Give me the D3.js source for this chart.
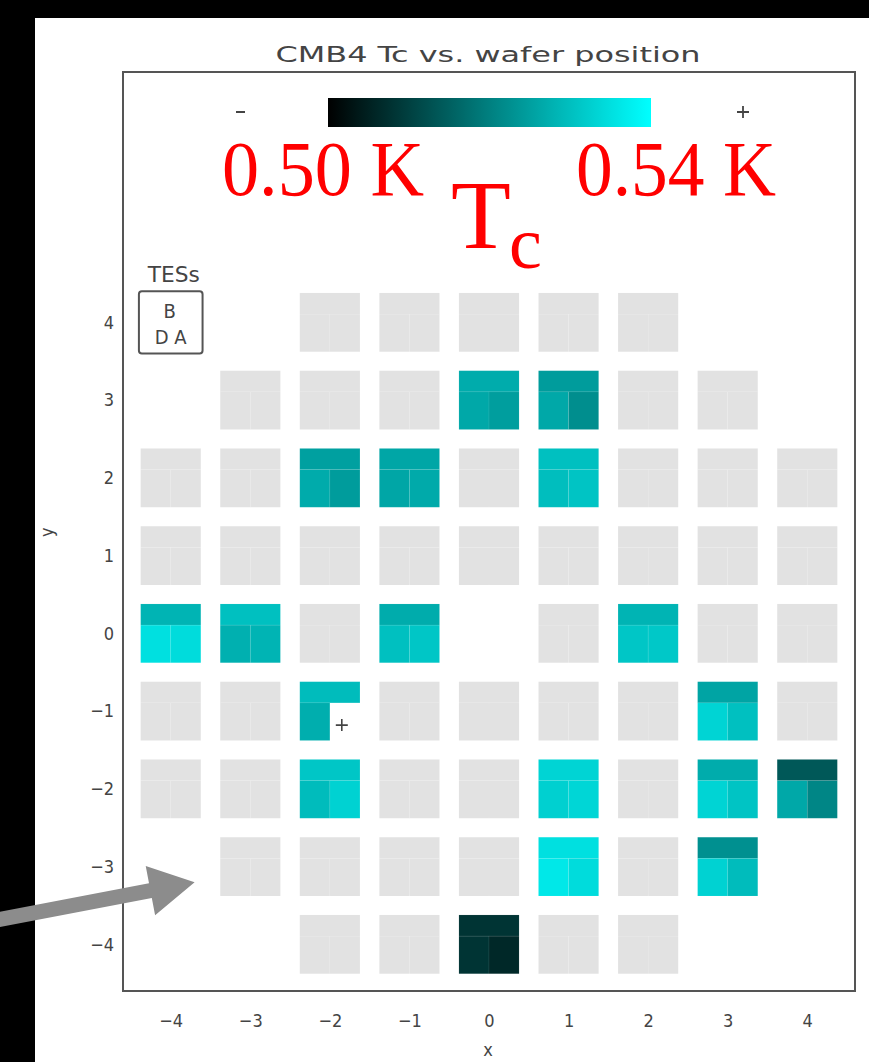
<!DOCTYPE html>
<html>
<head>
<meta charset="utf-8">
<script src="https://cdn.jsdelivr.net/npm/d3@7"></script>
<style>
  html, body { margin: 0; padding: 0; background: #000; }
  svg { display: block; }
  .lbl { font-family: "Liberation Sans Narrow", "DejaVu Sans Condensed", "DejaVu Sans", sans-serif; fill: #444; }
  .red { font-family: "Liberation Serif", "DejaVu Serif", serif; fill: #ff0000; }
</style>
</head>
<body>
<svg id="chart" width="869" height="1062"></svg>
<script>
// wafer pixel positions, one entry per pixel (row by row, top to bottom)
const pixelX = [
  -2, -1, 0, 1, 2,
  -3, -2, -1, 0, 1, 2, 3,
  -4, -3, -2, -1, 0, 1, 2, 3, 4,
  -4, -3, -2, -1, 0, 1, 2, 3, 4,
  -4, -3, -2, -1, 1, 2, 3, 4,
  -4, -3, -2, -1, 0, 1, 2, 3, 4,
  -4, -3, -2, -1, 0, 1, 2, 3, 4,
  -3, -2, -1, 0, 1, 2, 3,
  -2, -1, 0, 1, 2
];
const pixelY = [
  4, 4, 4, 4, 4,
  3, 3, 3, 3, 3, 3, 3,
  2, 2, 2, 2, 2, 2, 2, 2, 2,
  1, 1, 1, 1, 1, 1, 1, 1, 1,
  0, 0, 0, 0, 0, 0, 0, 0,
  -1, -1, -1, -1, -1, -1, -1, -1, -1,
  -2, -2, -2, -2, -2, -2, -2, -2, -2,
  -3, -3, -3, -3, -3, -3, -3,
  -4, -4, -4, -4, -4
];
// Tc (K) of the three TESs in each pixel, null = not measured
const _ = null;
const tcB = [
  _, _, _, _, _,
  _, _, _, .5270, .5245, _, _,
  _, _, .5251, .5260, _, .5301, _, _, _,
  _, _, _, _, _, _, _, _, _,
  .5282, .5301, _, .5270, _, .5282, _, _,
  _, _, .5295, _, _, _, _, .5257, _,
  _, _, .5311, _, _, .5333, _, .5270, .5138,
  _, _, _, _, .5351, _, .5226,
  _, _, .5082, _, _
];
const tcD = [
  _, _, _, _, _,
  _, _, _, .5264, .5264, _, _,
  _, _, .5268, .5260, _, .5298, _, _, _,
  _, _, _, _, _, _, _, _, _,
  .5351, .5276, _, .5301, _, .5311, _, _,
  _, _, .5273, _, _, _, _, .5333, _,
  _, _, .5295, _, _, .5326, _, .5333, .5264,
  _, _, _, _, .5364, _, .5329,
  _, _, .5082, _, _
];
const tcA = [
  _, _, _, _, _,
  _, _, _, .5248, .5223, _, _,
  _, _, .5245, .5267, _, .5307, _, _, _,
  _, _, _, _, _, _, _, _, _,
  .5345, .5282, _, .5311, _, .5314, _, _,
  _, _, _, _, _, _, _, .5301, _,
  _, _, .5329, _, _, .5336, _, .5307, .5210,
  _, _, _, _, .5345, _, .5295,
  _, _, .5063, _, _
];
const xTicks = [-4, -3, -2, -1, 0, 1, 2, 3, 4];
const yTicks = [-4, -3, -2, -1, 0, 1, 2, 3, 4];
const tcRange = [0.50, 0.54];
const tcLabels = ["0.50 K", "0.54 K"];
// arrow annotation in data coords (tail, tip)
const arrowTail = [-6.21, -3.69];
const arrowTip = [-3.70, -3.20];

const svg = d3.select("#chart");
const W = 869, H = 1062;

// white slide panel
svg.append("rect").attr("x", 35).attr("y", 18).attr("width", W - 35).attr("height", H - 18).attr("fill", "#fff");

const x = d3.scaleLinear().domain([-4.6, 4.6]).range([123, 855]);
const y = d3.scaleLinear().domain([-4.6, 7.22]).range([991, 72]);
const color = d3.scaleLinear().domain(tcRange).range(["#000000", "#00ffff"]).clamp(true);

const half = 0.378;      // half size of a pixel, data units
const bFrac = 0.36;      // share of height taken by the B TES

const pixels = pixelX.map((px, i) => ({ x: px, y: pixelY[i], B: tcB[i], D: tcD[i], A: tcA[i] }));

const tes = [];
pixels.forEach(p => {
  const tested = p.B !== null || p.D !== null || p.A !== null;
  const top = p.y + half, bot = p.y - half, mid = top - 2 * half * bFrac;
  const parts = [
    { k: "B", x0: p.x - half, x1: p.x + half, y0: mid, y1: top },
    { k: "D", x0: p.x - half, x1: p.x, y0: bot, y1: mid },
    { k: "A", x0: p.x, x1: p.x + half, y0: bot, y1: mid }
  ];
  parts.forEach(s => {
    const v = p[s.k];
    if (!tested) tes.push({ ...s, fill: "#e2e2e2" });
    else if (v !== null) tes.push({ ...s, fill: color(v) });
    else tes.push({ ...s, fill: null, dead: true, px: p.x, py: p.y });
  });
});

svg.append("g").selectAll("rect")
  .data(tes.filter(d => d.fill))
  .join("rect")
  .attr("x", d => x(d.x0))
  .attr("y", d => y(d.y1))
  .attr("width", d => x(d.x1) - x(d.x0))
  .attr("height", d => y(d.y0) - y(d.y1))
  .attr("fill", d => d.fill)
  .attr("stroke", "rgba(255,255,255,0.08)")
  .attr("stroke-width", 0.8);

// dead TES marker
svg.append("g").selectAll("path")
  .data(tes.filter(d => d.dead))
  .join("path")
  .attr("d", d => {
    const cx = x(d.px + 0.15), cy = y(d.py - 0.18);
    return `M${cx - 6},${cy}H${cx + 6}M${cx},${cy - 6}V${cy + 6}`;
  })
  .attr("stroke", "#444").attr("stroke-width", 1.6);

// frame
svg.append("rect")
  .attr("x", x(-4.6)).attr("y", y(7.22))
  .attr("width", x(4.6) - x(-4.6)).attr("height", y(-4.6) - y(7.22))
  .attr("fill", "none").attr("stroke", "#555").attr("stroke-width", 2);

// axes
const xAxis = svg.append("g").attr("transform", `translate(0,${y(-4.6)})`)
  .call(d3.axisBottom(x).tickValues(xTicks).tickSize(0).tickPadding(23));
const yAxis = svg.append("g").attr("transform", `translate(${x(-4.6)},0)`)
  .call(d3.axisLeft(y).tickValues(yTicks).tickSize(0).tickPadding(9));
[xAxis, yAxis].forEach(a => {
  a.select(".domain").remove();
  a.selectAll("text").attr("class", "lbl").style("font-size", "18px").attr("fill", null);
});

svg.append("text").attr("class", "lbl").attr("x", 488).attr("y", 1056)
  .attr("text-anchor", "middle").style("font-size", "18px").text("x");
svg.append("text").attr("class", "lbl")
  .attr("transform", `translate(53,${y(1.3)}) rotate(-90)`)
  .attr("text-anchor", "middle").style("font-size", "18px").text("y");

// title
svg.append("text").attr("class", "lbl").attr("x", 488).attr("y", 62)
  .attr("text-anchor", "middle").style("font-size", "21px")
  .attr("textLength", 425).attr("lengthAdjust", "spacingAndGlyphs")
  .text("CMB4 Tc vs. wafer position");

// TES layout key at the (-4, 4) slot
const key = svg.append("g");
key.append("rect")
  .attr("x", x(-4 - 0.4)).attr("y", y(4 + 0.4))
  .attr("width", x(0.8) - x(0)).attr("height", y(-0.4) - y(0.4))
  .attr("rx", 3).attr("fill", "#fff").attr("stroke", "#555").attr("stroke-width", 2);
key.append("text").attr("class", "lbl").attr("x", x(-4) + 3).attr("y", y(4.55) + 2)
  .attr("text-anchor", "middle").style("font-size", "22px")
  .attr("textLength", 52).attr("lengthAdjust", "spacingAndGlyphs").text("TESs");
key.append("text").attr("class", "lbl").attr("x", x(-4) - 1).attr("y", y(4) - 4)
  .attr("text-anchor", "middle").style("font-size", "20px").text("B");
key.append("text").attr("class", "lbl").attr("x", x(-4)).attr("y", y(4) + 22)
  .attr("text-anchor", "middle").style("font-size", "20px").text("D A");

// colour bar
const defs = svg.append("defs");
const grad = defs.append("linearGradient").attr("id", "cbar");
d3.range(0, 1.0001, 0.1).forEach(t => {
  grad.append("stop").attr("offset", t)
    .attr("stop-color", color(tcRange[0] + t * (tcRange[1] - tcRange[0])));
});
svg.append("rect").attr("x", 328).attr("y", 98).attr("width", 323).attr("height", 29)
  .attr("fill", "url(#cbar)");
svg.append("path").attr("d", "M236,112H245").attr("stroke", "#444").attr("stroke-width", 2);
svg.append("path").attr("d", "M737,112H749M743,106V118").attr("stroke", "#444").attr("stroke-width", 1.8);

svg.append("text").attr("class", "red").attr("x", 222).attr("y", 195)
  .style("font-size", "79px").attr("textLength", 202).attr("lengthAdjust", "spacingAndGlyphs")
  .text(tcLabels[0]);
svg.append("text").attr("class", "red").attr("x", 576).attr("y", 195)
  .style("font-size", "79px").attr("textLength", 200).attr("lengthAdjust", "spacingAndGlyphs")
  .text(tcLabels[1]);
svg.append("text").attr("class", "red").attr("x", 451).attr("y", 248)
  .style("font-size", "98px").text("T");
svg.append("text").attr("class", "red").attr("x", 509).attr("y", 268)
  .style("font-size", "74px").text("c");

// arrow pointing at the missing (-4, -3) pixel
const tx = x(arrowTip[0]), ty = y(arrowTip[1]);
const sx = x(arrowTail[0]), sy = y(arrowTail[1]);
const ang = Math.atan2(ty - sy, tx - sx);
const len = Math.hypot(tx - sx, ty - sy);
const headL = 45, headW = 25, shaftW = 7.5;
const pts = [[0, -shaftW], [len - headL, -shaftW], [len - headL, -headW], [len, 0],
             [len - headL, headW], [len - headL, shaftW], [0, shaftW]]
  .map(([u, v]) => [sx + u * Math.cos(ang) - v * Math.sin(ang), sy + u * Math.sin(ang) + v * Math.cos(ang)]);
svg.append("path").attr("d", d3.line()(pts) + "Z").attr("fill", "#8c8c8c");
</script>
</body>
</html>
